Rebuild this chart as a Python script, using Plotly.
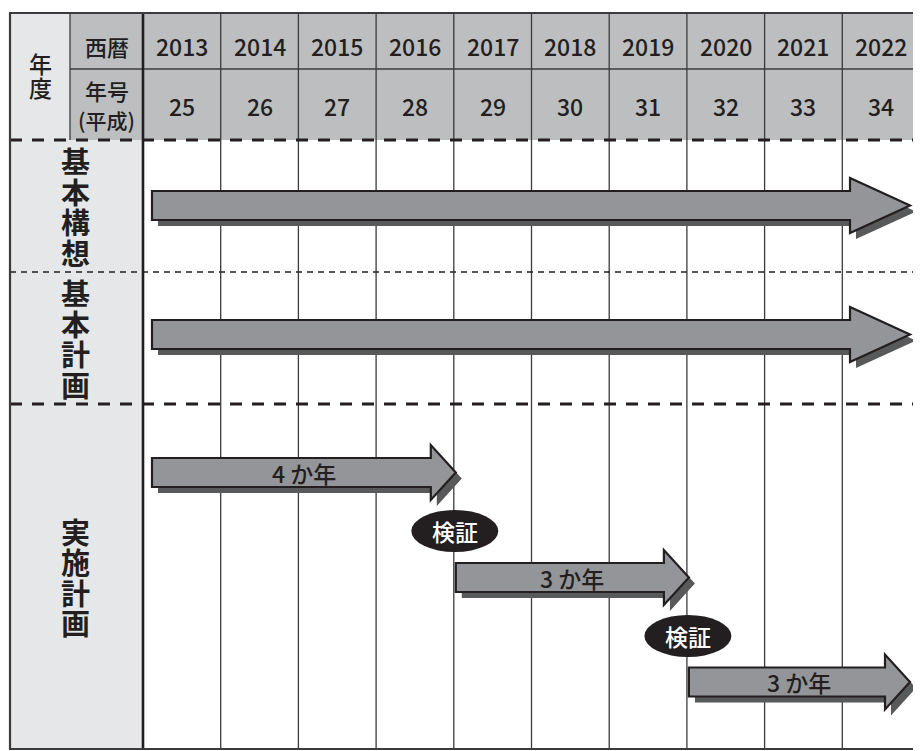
import plotly.graph_objects as go

# ---------------- data ----------------
years = [2013, 2014, 2015, 2016, 2017, 2018, 2019, 2020, 2021, 2022]
era_years = [25, 26, 27, 28, 29, 30, 31, 32, 33, 34]
corner_label = ["年", "度"]
western_label = "西暦"
era_label = ["年号", "(平成)"]
row_labels = ["基本構想", "基本計画", "実施計画"]

long_plan_start = [2013, 2013]      # 基本構想, 基本計画
long_plan_end = [2022, 2022]

phase_labels = ["4 か年", "3 か年", "3 か年"]
phase_start = [2013, 2017, 2020]
phase_end = [2016, 2019, 2022]

review_label = "検証"
review_after = [2016, 2019]

# ---------------- layout constants (page pixels) ----------------
W, H = 921, 751
PAGE_OFF = 8          # browser default body margin
FL, FR, FT, FB = 10, 920, 13, 749
CORNER_R = 70
LABEL_R = 143
HEADER_MID = 69
HEADER_B = 140
ROW_B = [272, 404, FB]
COLW = (FR - LABEL_R) / len(years)

FONT = "Noto Sans CJK JP"
DARK = "#231f20"
LINE = "#3b3b3d"
HEAD_FILL = "#bcbec0"
LABEL_FILL = "#e6e7e8"
ARROW_FILL = "#939598"
SHADOW = "#58595b"

x_first = years[0] - 0.5


def px2x(px):
    return x_first + (px - LABEL_R) / COLW


def x2px(x):
    return LABEL_R + (x - x_first) * COLW


shapes = []
annotations = []


def rect(px0, py0, px1, py1, fill, line_w=0, line_c=None):
    shapes.append(dict(type="rect", xref="x", yref="y",
                       x0=px2x(px0), x1=px2x(px1), y0=py0, y1=py1,
                       fillcolor=fill,
                       line=dict(width=line_w, color=line_c or fill)))


def hline(py, px0, px1, w, color, dash="solid"):
    shapes.append(dict(type="line", xref="x", yref="y",
                       x0=px2x(px0), x1=px2x(px1), y0=py, y1=py,
                       line=dict(width=w, color=color, dash=dash)))


def vline(px, py0, py1, w, color):
    shapes.append(dict(type="line", xref="x", yref="y",
                       x0=px2x(px), x1=px2x(px), y0=py0, y1=py1,
                       line=dict(width=w, color=color)))


def arrow(px_start, px_tip, yc, head_len, body_h=14.5, head_h=27.5, shadow=(6, 6)):
    hs = px_tip - head_len

    def path(dx, dy):
        pts = [(px_start, yc - body_h), (hs, yc - body_h), (hs, yc - head_h),
               (px_tip, yc), (hs, yc + head_h), (hs, yc + body_h),
               (px_start, yc + body_h)]
        s = ""
        for i, (a, b) in enumerate(pts):
            s += ("M" if i == 0 else "L") + f"{px2x(a + dx):.5f},{b + dy:.2f} "
        return s + "Z"

    shapes.append(dict(type="path", xref="x", yref="y", path=path(*shadow),
                       fillcolor=SHADOW, line=dict(width=0, color=SHADOW)))
    shapes.append(dict(type="path", xref="x", yref="y", path=path(0, 0),
                       fillcolor=ARROW_FILL, line=dict(width=2.2, color=DARK)))


def text(px, py, s, size, color=DARK, weight="normal"):
    annotations.append(dict(x=px2x(px), y=py, xref="x", yref="y", text=s,
                            showarrow=False, xanchor="center", yanchor="middle",
                            font=dict(family=FONT, size=size, color=color, weight=weight)))


# ---------------- backgrounds ----------------
rect(CORNER_R, FT, FR, HEADER_B, HEAD_FILL)
rect(FL, FT, CORNER_R, HEADER_B, LABEL_FILL)
rect(FL, HEADER_B, LABEL_R, FB, LABEL_FILL)

# ---------------- grid ----------------
for i in range(1, len(years)):
    vline(x2px(years[i] - 0.5), FT, FB, 1.3, LINE)
vline(CORNER_R, FT, HEADER_B, 1.3, LINE)
hline(HEADER_MID, CORNER_R, FR, 1.3, LINE)
vline(LABEL_R, FT, FB, 2.6, DARK)

hline(HEADER_B, FL, FR, 3, DARK, dash="12px,10px")
hline(ROW_B[0], FL, FR, 1.3, DARK, dash="6px,5px")
hline(ROW_B[1], FL, FR, 3, DARK, dash="12px,10px")

shapes.append(dict(type="rect", xref="x", yref="y", x0=px2x(FL), x1=px2x(FR),
                   y0=FT, y1=FB, line=dict(width=2.2, color=LINE)))

# ---------------- header texts ----------------
text(40, 63, corner_label[0], 23, weight=500)
text(40, 87, corner_label[1], 23, weight=500)
text((CORNER_R + LABEL_R) / 2, 46, western_label, 22, weight=500)
text((CORNER_R + LABEL_R) / 2, 90, era_label[0], 22, weight=500)
text((CORNER_R + LABEL_R) / 2, 120, era_label[1], 21, weight=500)
for y_, e_ in zip(years, era_years):
    text(x2px(y_), 46, str(y_), 23, weight=500)
    text(x2px(y_), 106, str(e_), 23, weight=500)

# ---------------- row labels ----------------
row_tops = [HEADER_B] + ROW_B[:-1]
for lab, t, b in zip(row_labels, row_tops, ROW_B):
    c = (t + b) / 2
    n = len(lab)
    for i, ch in enumerate(lab):
        text((FL + LABEL_R) / 2 - 1, c + (i - (n - 1) / 2) * 30.5, ch, 29, weight="bold")

# ---------------- long arrows ----------------
end_px = FR - 10
long_yc = [205.5, 334.5]
for s, e, yc in zip(long_plan_start, long_plan_end, long_yc):
    tip = min(x2px(e + 0.5) + 2, end_px)
    arrow(x2px(s - 0.5) + 9, tip, yc, head_len=60)

# ---------------- implementation phases ----------------
phase_yc = [472.5, 577.5, 682]
for k, (lab, s, e, yc) in enumerate(zip(phase_labels, phase_start, phase_end, phase_yc)):
    start = x2px(s - 0.5) + (9 if s == years[0] else 2)
    tip = min(x2px(e + 0.5) + 2, end_px)
    arrow(start, tip, yc, head_len=25)
    text((start + tip) / 2, yc, lab, 23, weight=500)

review_yc = [531, 636]
for r, yc in zip(review_after, review_yc):
    cx = x2px(r + 0.5) + 1
    shapes.append(dict(type="circle", xref="x", yref="y",
                       x0=px2x(cx - 43.5), x1=px2x(cx + 43.5), y0=yc - 21, y1=yc + 21,
                       fillcolor=DARK, line=dict(width=0, color=DARK)))
    text(cx, yc, review_label, 23, color="white", weight=500)

fig = go.Figure()
fig.add_trace(go.Scatter(x=[px2x(PAGE_OFF)], y=[PAGE_OFF], mode="markers",
                         marker=dict(opacity=0), hoverinfo="skip", showlegend=False))
fig.update_layout(
    width=W, height=H, margin=dict(l=0, r=0, t=0, b=0),
    paper_bgcolor="white", plot_bgcolor="white",
    xaxis=dict(range=[px2x(PAGE_OFF), px2x(W + PAGE_OFF)], visible=False, fixedrange=True),
    yaxis=dict(range=[H + PAGE_OFF, PAGE_OFF], visible=False, fixedrange=True),
    shapes=shapes, annotations=annotations, showlegend=False,
)
fig.write_html("out.html")
